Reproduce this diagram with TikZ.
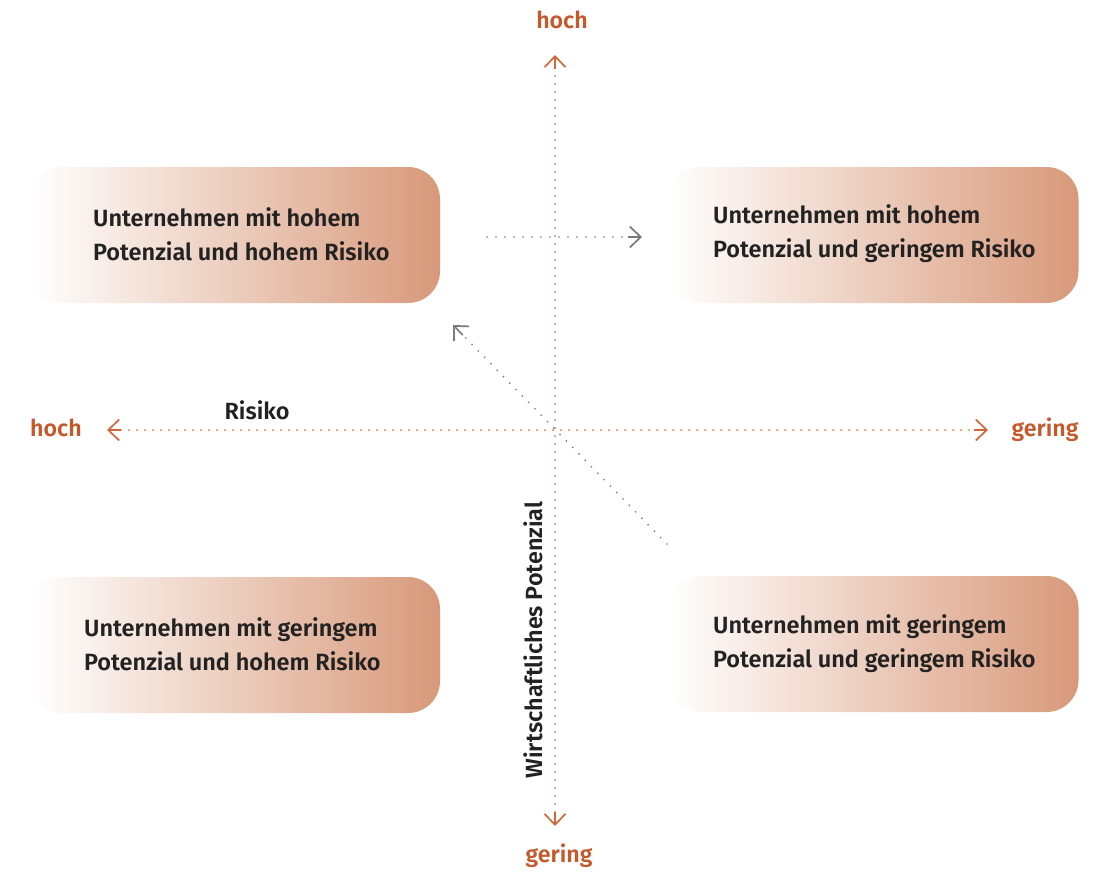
\documentclass[tikz,border=0pt]{standalone}
\usepackage{fontspec}
\setmainfont{Fira Sans}[UprightFont={* SemiBold},BoldFont={* Bold}]
\usetikzlibrary{arrows.meta,calc}
\definecolor{boxc}{HTML}{D8997A}
\definecolor{axisc}{HTML}{E2703C}
\definecolor{arrc}{HTML}{D0683A}
\definecolor{labc}{HTML}{C45A2C}
\definecolor{txtc}{HTML}{222222}
\definecolor{grayc}{HTML}{7A7A7A}
\tikzset{
  x=1pt,y=-1pt,
  quad/.style={minimum width=410pt,minimum height=136pt,rounded corners=32pt,
    left color=white,right color=boxc,inner sep=0pt},
  qtext/.style={anchor=west,align=left,text=txtc,inner sep=0pt,
    font=\fontsize{23.5}{34}\selectfont},
  axislab/.style={text=labc,inner sep=0pt,font=\fontsize{23.2}{28}\selectfont},
  otip/.tip={Straight Barb[length=11pt,width=21pt,line width=1.7pt]},
  axisline/.style={draw=axisc,line width=2pt,line cap=round,dash pattern=on 0pt off 8pt},
  axistip/.style={draw=arrc,line width=1.7pt,-otip},
  grayline/.style={draw=grayc,line width=1.9pt,line cap=round,dash pattern=on 0pt off 9pt},
  graytip/.style={draw=grayc,line width=1.6pt,-otip},
  axisname/.style={text=txtc,inner sep=0pt,font=\fontsize{23.4}{28}\selectfont},
}
\begin{document}
\begin{tikzpicture}
\useasboundingbox (0,0) rectangle (1111,873);
% quadrant boxes
\node[quad] (tl) at (235,235) {};
\node[quad] (tr) at (873.5,235) {};
\node[quad] (bl) at (235,645) {};
\node[quad] (br) at (873.5,644) {};
\node[qtext] (tlt) at (93,234) {Unternehmen mit hohem\\Potenzial und hohem Risiko};
\node[qtext] (trt) at (713,234) {Unternehmen mit hohem\\Potenzial und geringem Risiko};
\node[qtext] (blt) at (84,644) {Unternehmen mit geringem\\Potenzial und hohem Risiko};
\node[qtext] (brt) at (713,644) {Unternehmen mit geringem\\Potenzial und geringem Risiko};
% axis labels
\node[axislab] (ytop) at (562,20) {hoch};
\node[axislab] (ybot) at (559,856) {gering};
\node[axislab] (xleft) at (56,428) {hoch};
\node[axislab] (xright) at (1045,430) {gering};
\coordinate (vtop) at (555,55);
\coordinate (vbot) at (555,826);
\coordinate (hleft) at (107,430);
\coordinate (hright) at (988,430);
\coordinate (vtops) at ($(vtop)!14pt!(vbot)$);
\coordinate (vbots) at ($(vbot)!14pt!(vtop)$);
\coordinate (hlefts) at ($(hleft)!14pt!(hright)$);
\coordinate (hrights) at ($(hright)!14pt!(hleft)$);
\draw[axisline] (vbots) -- (vtops);
\draw[axisline] (hlefts) -- (hrights);
\draw[axistip] (vtops) -- (vtop);
\draw[axistip] (vbots) -- (vbot);
\draw[axistip] (hlefts) -- (hleft);
\draw[axistip] (hrights) -- (hright);
% axis names
\node[axisname] (risk) at (257,410) {Risiko};
\node[axisname,rotate=90] (pot) at (533,640) {Wirtschaftliches Potenzial};
% gray arrows
\coordinate (g1s) at (487,237);
\coordinate (g1e) at (642,237);
\coordinate (g2s) at (667,544);
\coordinate (g2e) at (453,325);
\coordinate (g1m) at ($(g1e)!14pt!(g1s)$);
\coordinate (g2m) at ($(g2e)!14pt!(g2s)$);
\draw[grayline] (g1s) -- (g1m);
\draw[graytip] (g1m) -- (g1e);
\draw[grayline] (g2s) -- (g2m);
\draw[graytip] (g2m) -- (g2e);
\end{tikzpicture}
\end{document}
